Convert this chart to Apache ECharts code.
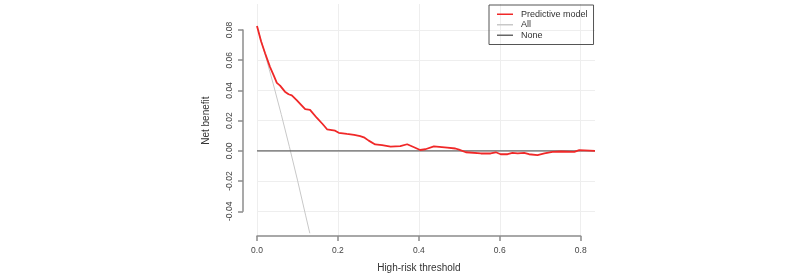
<!DOCTYPE html>
<html>
<head>
<meta charset="utf-8">
<script src="https://cdn.jsdelivr.net/npm/echarts@6/dist/echarts.min.js"></script>
<style>
  html, body {margin: 0; padding: 0; background: #fff;}
  #chart {width: 800px; height: 278px;}
</style>
</head>
<body>
<div id="chart"></div>
<script>
// threshold probabilities and net benefit
const modelX = [0, 0.010, 0.020, 0.032, 0.042, 0.049, 0.057, 0.061, 0.069, 0.078, 0.086, 0.098, 0.109, 0.119, 0.131,
    0.148, 0.162, 0.173, 0.185, 0.193, 0.202, 0.222, 0.240, 0.255, 0.264, 0.276, 0.292, 0.309, 0.330, 0.354,
    0.371, 0.388, 0.403, 0.416, 0.437, 0.470, 0.490, 0.499, 0.516, 0.553, 0.577, 0.590, 0.602, 0.619, 0.631,
    0.644, 0.660, 0.672, 0.693, 0.710, 0.730, 0.751, 0.784, 0.796, 0.835];
const modelY = [0.0826, 0.0725, 0.0646, 0.0556, 0.0495, 0.0450, 0.0432, 0.0425, 0.0392, 0.0375, 0.0368, 0.0336, 0.0305, 0.0276, 0.0272,
    0.0218, 0.0178, 0.0143, 0.0138, 0.0134, 0.0120, 0.0112, 0.0106, 0.0098, 0.0090, 0.0068, 0.0043, 0.0038, 0.0029, 0.0031,
    0.0044, 0.0024, 0.0006, 0.0011, 0.0030, 0.0022, 0.0016, 0.0009, -0.0009, -0.0017, -0.0017, -0.0009, -0.0022, -0.0022, -0.0013,
    -0.0017, -0.0013, -0.0022, -0.0028, -0.0017, -0.0006, -0.0004, -0.0006, 0.0005, 0.0000];
const allX = [0, 0.02, 0.04, 0.06, 0.08, 0.10, 0.12, 0.1305];
const allY = [0.0826, 0.0639, 0.0444, 0.0241, 0.0028, -0.0193, -0.0425, -0.0545];
const noneX = [0, 0.835];
const noneY = [0, 0];
const xTicks = ['0.0', '0.2', '0.4', '0.6', '0.8'];
const yTicks = ['-0.04', '-0.02', '0.00', '0.02', '0.04', '0.06', '0.08'];
const legendNames = ['Predictive model', 'All', 'None'];

const zip = (xs, ys) => xs.map((x, i) => [x, ys[i]]);
const font = 'Liberation Sans, Arial, sans-serif';
const txt = '#444';
const axisCol = '#8c8c8c';
const gridCol = '#eeeeee';

const chart = echarts.init(document.getElementById('chart'));
chart.setOption({
    animation: false,
    textStyle: {fontFamily: font},
    grid: [
        // data area
        {left: 257, right: 205, top: 4, bottom: 42},
        // y axis + horizontal grid lines
        {left: 257, right: 205, top: 30, bottom: 66.7},
        // x axis + vertical grid lines
        {left: 257, right: 219.3, top: 4, bottom: 42}
    ],
    legend: {
        orient: 'vertical',
        left: 489, top: 5,
        data: legendNames,
        icon: 'rect',
        itemWidth: 16, itemHeight: 1.5, itemGap: 0,
        padding: [4, 6, 4, 8],
        borderColor: '#555', borderWidth: 1, borderRadius: 0,
        textStyle: {fontSize: 9, lineHeight: 10.5, color: '#333', fontFamily: font, padding: [0, 0, 0, 3]}
    },
    xAxis: [
        {gridIndex: 0, type: 'value', min: 0, max: 0.835, show: false},
        {gridIndex: 1, type: 'value', min: 0, max: 0.835, show: false},
        {
            gridIndex: 2, type: 'value', min: 0, max: 0.8, interval: 0.2,
            name: 'High-risk threshold', nameLocation: 'middle', nameGap: 27,
            nameTextStyle: {fontSize: 10, color: '#333', fontFamily: font},
            axisLine: {show: true, onZero: false, lineStyle: {color: axisCol, width: 1.5}},
            axisTick: {show: true, length: 5, lineStyle: {color: axisCol, width: 1.5}},
            axisLabel: {fontSize: 8.5, color: txt, margin: 10, formatter: (v) => xTicks[Math.round(v / 0.2)]},
            splitLine: {show: true, lineStyle: {color: gridCol, width: 1}}
        }
    ],
    yAxis: [
        {gridIndex: 0, type: 'value', min: -0.0563, max: 0.0972, show: false},
        {
            gridIndex: 1, type: 'value', min: -0.04, max: 0.08, interval: 0.02, offset: 14,
            name: 'Net benefit', nameLocation: 'middle', nameGap: 32,
            nameTextStyle: {fontSize: 10, color: '#333', fontFamily: font},
            axisLine: {show: true, onZero: false, lineStyle: {color: axisCol, width: 1.5}},
            axisTick: {show: true, length: 5, lineStyle: {color: axisCol, width: 1.5}},
            axisLabel: {fontSize: 8.5, color: txt, margin: 9, rotate: 90,
                formatter: (v) => yTicks[Math.round((v + 0.04) / 0.02)]},
            splitLine: {show: true, lineStyle: {color: gridCol, width: 1}}
        },
        {gridIndex: 2, type: 'value', min: -0.0563, max: 0.0972, show: false}
    ],
    series: [
        {
            name: 'All', type: 'line', xAxisIndex: 0, yAxisIndex: 0,
            data: zip(allX, allY), symbol: 'none', z: 2,
            lineStyle: {color: '#c8c8c8', width: 1}, itemStyle: {color: '#c8c8c8'}
        },
        {
            name: 'None', type: 'line', xAxisIndex: 0, yAxisIndex: 0,
            data: zip(noneX, noneY), symbol: 'none', z: 3,
            lineStyle: {color: '#666', width: 1.2}, itemStyle: {color: '#666'}
        },
        {
            name: 'Predictive model', type: 'line', xAxisIndex: 0, yAxisIndex: 0,
            data: zip(modelX, modelY), symbol: 'none', z: 4,
            lineStyle: {color: '#f02828', width: 1.8}, itemStyle: {color: '#f02828'}
        }
    ]
});
</script>
</body>
</html>
